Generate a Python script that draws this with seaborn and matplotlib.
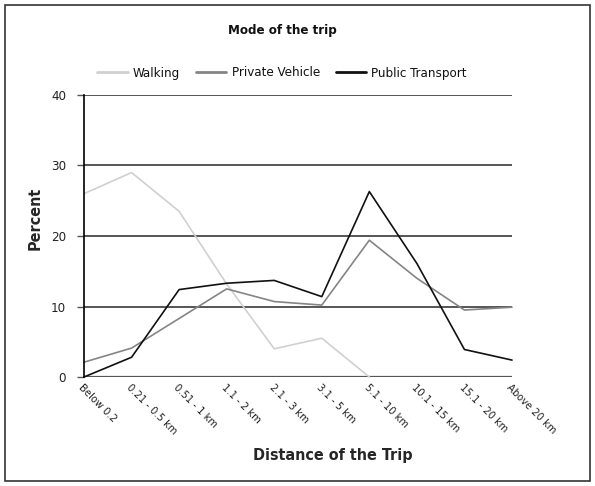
import matplotlib.pyplot as plt
import matplotlib.patches as mpatches
import pandas as pd
import seaborn as sns

distances = ["Below 0.2", "0.21 - 0.5 km", "0.51 - 1 km", "1.1 - 2 km", "2.1 - 3 km",
             "3.1 - 5 km", "5.1 - 10 km", "10.1 - 15 km", "15.1 - 20 km", "Above 20 km"]
walking = [26.0, 29.0, 23.5, 13.2, 4.0, 5.5, 0.0, None, None, None]
private_vehicle = [2.1, 4.1, 8.3, 12.5, 10.7, 10.2, 19.4, 14.0, 9.5, 9.9]
public_transport = [0.0, 2.8, 12.4, 13.3, 13.7, 11.4, 26.3, 16.1, 3.9, 2.4]

modes = ["Walking", "Private Vehicle", "Public Transport"]
colors = ["#d0d0d0", "#858585", "#111111"]

df = pd.DataFrame({"Distance": distances, "Walking": walking,
                   "Private Vehicle": private_vehicle,
                   "Public Transport": public_transport})
long = df.melt(id_vars="Distance", var_name="Mode", value_name="Percent").dropna()
long["x"] = long["Distance"].map({d: i for i, d in enumerate(distances)})

sns.set_style("white")
plt.rcParams["font.family"] = ["DejaVu Sans"]
plt.rcParams["font.stretch"] = "condensed"
plt.rcParams["text.color"] = "#111111"

fig = plt.figure(figsize=(5.95, 4.86), dpi=100)
ax = fig.add_axes([84 / 595, 1 - 377 / 486, (512 - 84) / 595, (377 - 95) / 486])

for y in [10, 20, 30, 40]:
    ax.axhline(y, color="#555555", lw=1.4, zorder=0)
ax.axhline(0, color="#555555", lw=1.6, zorder=0)

sns.lineplot(data=long, x="x", y="Percent", hue="Mode", hue_order=modes,
             palette=colors, linewidth=1.2, ax=ax, legend=False, clip_on=False)

ax.set_xlim(0, 8.88)
ax.set_ylim(0, 40)
ax.set_yticks([0, 10, 20, 30, 40])
ax.set_yticklabels(["0", "10", "20", "30", "40"], fontsize=9.5, color="#222222")
ax.set_xticks(range(len(distances)))
ax.set_xticklabels(distances, rotation=-45, ha="left", rotation_mode="anchor",
                   fontsize=8, color="#222222")
ax.tick_params(axis="y", length=5, width=1, color="#555555", pad=8, left=True)
ax.tick_params(axis="x", length=0, pad=4)
for s in ["top", "right", "bottom"]:
    ax.spines[s].set_visible(False)
ax.spines["left"].set_color("black")
ax.spines["left"].set_linewidth(1.2)

ax.set_ylabel("Percent", fontsize=11.5, fontweight="bold")
ax.yaxis.set_label_coords((43 - 84) / 428, (377 - 218) / 282)
ax.set_xlabel("Distance of the Trip", fontsize=11.5, fontweight="bold")
ax.xaxis.set_label_coords((333 - 84) / 428, -(448 - 377) / 282)

fig.text(282 / 595, 1 - 30 / 486, "Mode of the trip", ha="center", va="center",
         fontsize=9.5, fontweight="bold")

handles = [plt.Line2D([], [], color=c, lw=2) for c in colors]
fig.legend(handles, modes, loc="center", bbox_to_anchor=(282 / 595, 1 - 73 / 486), ncol=3,
           frameon=False, fontsize=9.5, handlelength=2.3, columnspacing=1.2,
           handletextpad=0.4)

fig.patches.append(mpatches.Rectangle((5 / 595, 5 / 486), 585 / 595, 476 / 486,
                                      transform=fig.transFigure, fill=False,
                                      edgecolor="#333333", lw=1.2))

fig.savefig("out.png", dpi=100)
